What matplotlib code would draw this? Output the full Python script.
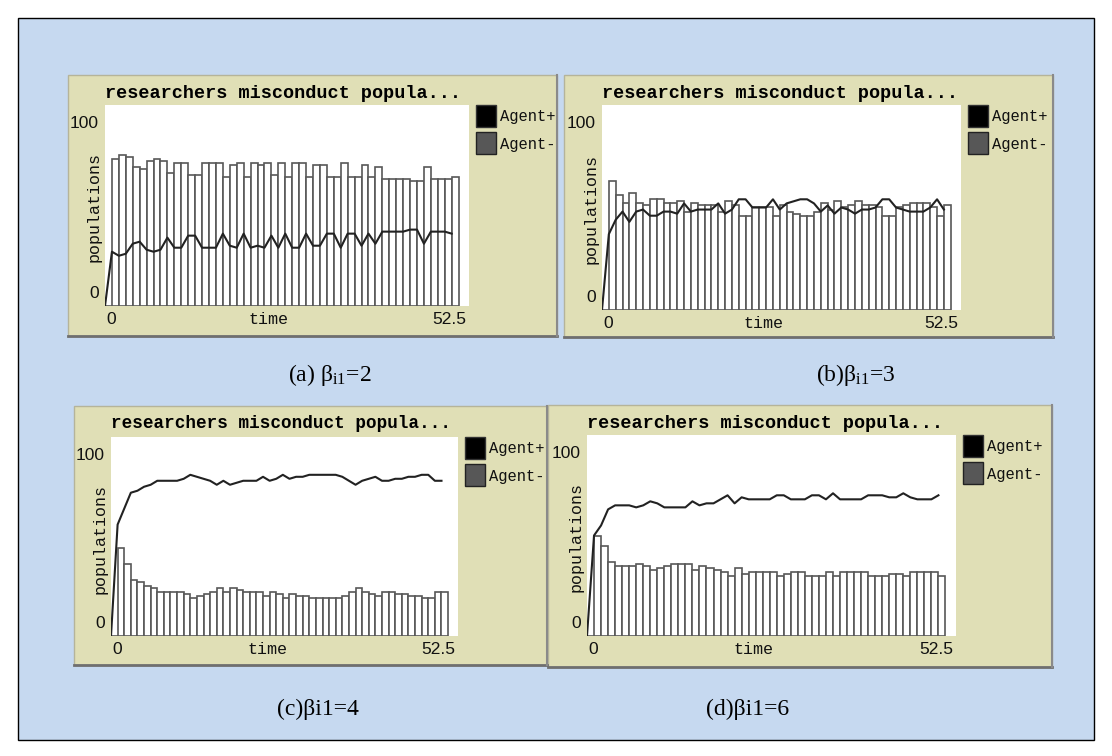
import numpy as np
import matplotlib
matplotlib.use("Agg")
import matplotlib.pyplot as plt
from matplotlib.patches import Rectangle

plt.rcParams['mathtext.fontset'] = 'custom'
plt.rcParams['mathtext.rm'] = 'Liberation Serif'
plt.rcParams['mathtext.it'] = 'Liberation Serif:italic'

# ---------------- data ----------------
time_steps = np.arange(51)

bars_a = [0, 73, 75, 74, 69, 68, 72, 73, 72, 66, 71, 71, 65, 65, 71, 71, 71, 64, 70, 71, 64,
          71, 70, 71, 65, 71, 64, 71, 71, 64, 70, 70, 64, 64, 71, 64, 64, 70, 64, 69, 63,
          63, 63, 63, 62, 62, 69, 63, 63, 63, 64]
line_a = [0, 27, 25, 26, 31, 32, 28, 27, 28, 34, 29, 29, 35, 35, 29, 29, 29, 36, 30, 29, 36,
          29, 30, 29, 35, 29, 36, 29, 29, 36, 30, 30, 36, 36, 29, 36, 36, 30, 36, 31, 37,
          37, 37, 37, 38, 38, 31, 37, 37, 37, 36]

bars_b = [0, 63, 56, 52, 57, 52, 51, 54, 54, 52, 52, 53, 48, 52, 51, 51, 51, 48, 53, 51, 46,
          46, 50, 50, 50, 46, 51, 48, 47, 46, 46, 48, 52, 49, 53, 50, 51, 53, 51, 51, 50,
          46, 46, 50, 51, 52, 52, 52, 50, 46, 51]
line_b = [0, 37, 44, 48, 43, 48, 49, 46, 46, 48, 48, 47, 52, 48, 49, 49, 49, 52, 47, 49, 54,
          54, 50, 50, 50, 54, 49, 52, 53, 54, 54, 52, 48, 51, 47, 50, 49, 47, 49, 49, 50,
          54, 54, 50, 49, 48, 48, 48, 50, 54, 49]

bars_c = [0, 44, 36, 28, 27, 25, 24, 22, 22, 22, 22, 21, 19, 20, 21, 22, 24, 22, 24, 23, 22,
          22, 22, 20, 22, 21, 19, 21, 20, 20, 19, 19, 19, 19, 19, 20, 22, 24, 22, 21, 20,
          22, 22, 21, 21, 20, 20, 19, 19, 22, 22]
line_c = [0, 56, 64, 72, 73, 75, 76, 78, 78, 78, 78, 79, 81, 80, 79, 78, 76, 78, 76, 77, 78,
          78, 78, 80, 78, 79, 81, 79, 80, 80, 81, 81, 81, 81, 81, 80, 78, 76, 78, 79, 80,
          78, 78, 79, 79, 80, 80, 81, 81, 78, 78]

bars_d = [0, 50, 45, 37, 35, 35, 35, 36, 35, 33, 34, 35, 36, 36, 36, 33, 35, 34, 33, 32, 30,
          34, 31, 32, 32, 32, 32, 30, 31, 32, 32, 30, 30, 30, 32, 30, 32, 32, 32, 32, 30,
          30, 30, 31, 31, 30, 32, 32, 32, 32, 30]
line_d = [0, 50, 55, 63, 65, 65, 65, 64, 65, 67, 66, 64, 64, 64, 64, 67, 65, 66, 66, 68, 70,
          66, 69, 68, 68, 68, 68, 70, 70, 68, 68, 68, 70, 70, 68, 71, 68, 68, 68, 68, 70,
          70, 70, 69, 69, 71, 69, 68, 68, 68, 70]

plot_title = "researchers misconduct popula..."
x_label = "time"
y_label = "populations"
x_tick_labels = ["0", "52.5"]
y_tick_labels = ["0", "100"]
legend_labels = ["Agent+", "Agent-"]
captions = [r"(a) β$_{\mathrm{i1}}$=2", r"(b)β$_{\mathrm{i1}}$=3", "(c)βi1=4", "(d)βi1=6"]
x_max = 52.5
y_max = 100

# ---------------- layout (pixels, top-left origin) ----------------
W, H = 1112, 756
fig = plt.figure(figsize=(W / 100, H / 100), dpi=100)
fig.patch.set_facecolor("white")


def rect(x0, y0, x1, y1, z=0, **kw):
    r = Rectangle((x0 / W, 1 - y1 / H), (x1 - x0) / W, (y1 - y0) / H,
                  transform=fig.transFigure, **kw)
    r.set_zorder(z)
    return r


def ftext(x, y, s, **kw):
    return fig.text(x / W, 1 - y / H, s, zorder=10, **kw)


BLUE = "#c6d9f0"
TAN = "#e0dfb6"

fig.add_artist(rect(18, 18, 1094, 740, z=-10, facecolor=BLUE, edgecolor="black", lw=1.0))

panels = [
    dict(box=(68, 75, 557, 336), plot=(105, 105, 469, 306), bars=bars_a, line=line_a,
         title_size=13.3, cap=(330, 375)),
    dict(box=(564, 75, 1053, 337), plot=(602, 105, 961, 310), bars=bars_b, line=line_b,
         title_size=13.3, cap=(856, 375)),
    dict(box=(74, 406, 547, 665), plot=(111, 437, 458, 636), bars=bars_c, line=line_c,
         title_size=12.7, cap=(318, 709)),
    dict(box=(548, 405, 1052, 667), plot=(587, 435, 956, 636), bars=bars_d, line=line_d,
         title_size=13.3, cap=(748, 709)),
]

MONO = "Liberation Mono"
SANS = "Liberation Sans"
SERIF = "Liberation Serif"

for i, p in enumerate(panels):
    bx0, by0, bx1, by1 = p["box"]
    fig.add_artist(rect(bx0, by0, bx1, by1, z=-5, facecolor=TAN, edgecolor="#b5b49a", lw=1.0))
    # bevel: darker bottom/right edges
    l1 = plt.Line2D([bx0 / W, bx1 / W], [1 - by1 / H, 1 - by1 / H],
                    transform=fig.transFigure, color="#6f6f6f", lw=2.0, zorder=-4)
    l2 = plt.Line2D([bx1 / W, bx1 / W], [1 - by0 / H, 1 - by1 / H],
                    transform=fig.transFigure, color="#8a8a8a", lw=1.5, zorder=-4)
    fig.add_artist(l1)
    fig.add_artist(l2)

    px0, py0, px1, py1 = p["plot"]
    ax = fig.add_axes([px0 / W, 1 - py1 / H, (px1 - px0) / W, (py1 - py0) / H])
    ax.set_zorder(5)
    ax.set_facecolor("white")
    for s in ax.spines.values():
        s.set_visible(False)
    ax.set_xticks([])
    ax.set_yticks([])
    ax.set_xlim(0, x_max)
    ax.set_ylim(0, y_max)
    ax.bar(time_steps, p["bars"], width=1.0, align="edge", facecolor="white",
           edgecolor="#585858", linewidth=1.2)
    ax.plot(time_steps, p["line"], color="#222222", linewidth=1.5, solid_joinstyle="round")

    # title
    ftext(px0, by0 + 18, plot_title, family=MONO, weight="bold", fontsize=p["title_size"],
          ha="left", va="center", color="black")
    # y tick labels
    ftext(px0 - 6, py0 + 18, y_tick_labels[1], family=SANS, fontsize=12.5, ha="right",
          va="center", color="#111111")
    ftext(px0 - 6, py1 - 12, y_tick_labels[0], family=SANS, fontsize=12.5, ha="right",
          va="center", color="#111111")
    # x tick labels
    ftext(px0 + 1, py1 + 14, x_tick_labels[0], family=SANS, fontsize=12.5, ha="left",
          va="center", color="#111111")
    ftext(px1 - 3, py1 + 14, x_tick_labels[1], family=SANS, fontsize=12.5, ha="right",
          va="center", color="#111111")
    # axis labels
    ftext(px0 + 0.45 * (px1 - px0), py1 + 14, x_label, family=MONO, fontsize=12,
          ha="center", va="center", color="#111111")
    ftext(px0 - 11, (py0 + py1) / 2 + 2, y_label, family=MONO, fontsize=12,
          rotation=90, ha="center", va="center", color="#111111")
    # legend
    lx = px1 + 7
    fig.add_artist(rect(lx, py0, lx + 20, py0 + 22, z=6, facecolor="black",
                        edgecolor="#333333", lw=1.0))
    fig.add_artist(rect(lx, py0 + 27, lx + 20, py0 + 49, z=6, facecolor="#575757",
                        edgecolor="#222222", lw=1.0))
    ftext(lx + 24, py0 + 12, legend_labels[0], family=MONO, fontsize=11.2, ha="left",
          va="center", color="#111111")
    ftext(lx + 24, py0 + 39, legend_labels[1], family=MONO, fontsize=11.2, ha="left",
          va="center", color="#111111")
    # caption
    cx, cy = p["cap"]
    ftext(cx, cy, captions[i], family=SERIF, fontsize=17, ha="center", va="center",
          color="black")

fig.savefig("out.png", dpi=100, facecolor=fig.get_facecolor())
